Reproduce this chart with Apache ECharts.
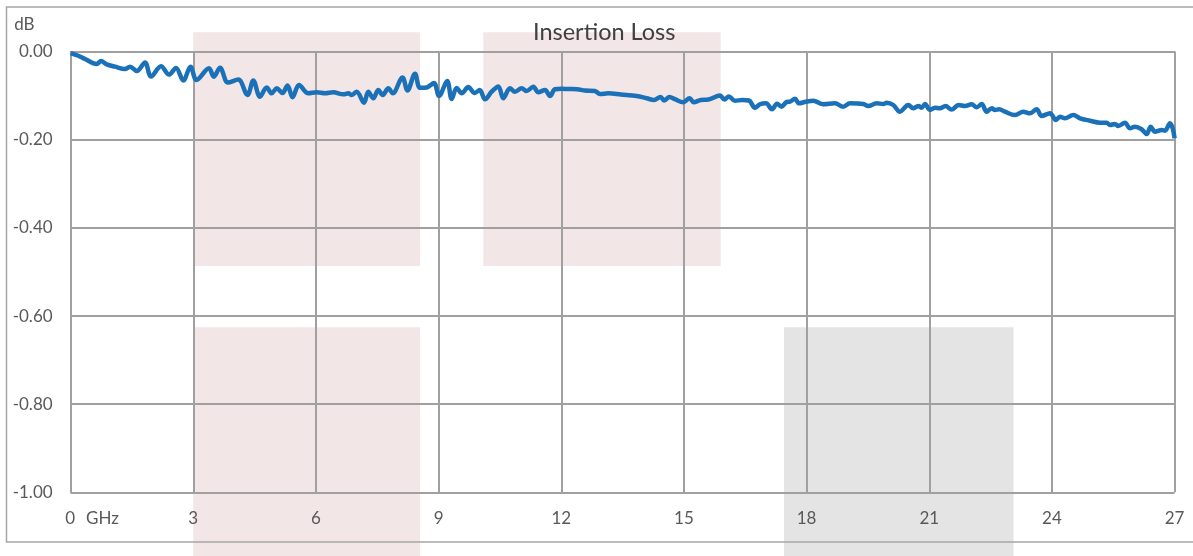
<!DOCTYPE html>
<html>
<head>
<meta charset="utf-8">
<script src="https://cdn.jsdelivr.net/npm/echarts@6/dist/echarts.min.js"></script>
<style>
html,body{margin:0;padding:0;background:#fff;}
#chart{width:1193px;height:556px;}
</style>
</head>
<body>
<div id="chart"></div>
<script>
// ---- data ----
const freqGHz = [0.000,0.188,0.352,0.638,0.743,0.883,1.086,1.330,1.453,1.617,1.820,1.966,2.211,2.406,2.578,2.756,2.932,3.079,3.385,3.500,3.654,3.849,4.101,4.326,4.468,4.632,4.796,4.918,5.040,5.182,5.305,5.427,5.586,5.813,6.019,6.222,6.424,6.669,6.792,6.875,6.997,7.175,7.281,7.403,7.525,7.633,7.770,7.877,8.117,8.239,8.423,8.545,8.709,8.887,9.010,9.210,9.320,9.442,9.565,9.726,9.883,10.005,10.135,10.298,10.460,10.582,10.746,10.868,11.032,11.154,11.316,11.438,11.602,11.724,11.846,12.010,12.172,12.384,12.580,12.824,12.947,13.150,13.460,13.844,14.089,14.268,14.427,14.512,14.649,14.781,14.984,15.138,15.241,15.413,15.596,15.882,15.992,16.097,16.249,16.432,16.591,16.738,16.860,17.007,17.154,17.276,17.386,17.513,17.594,17.716,17.814,17.980,18.164,18.408,18.694,18.897,19.061,19.386,19.508,19.714,19.875,19.958,20.120,20.283,20.486,20.609,20.731,20.814,20.895,21.017,21.139,21.262,21.397,21.548,21.715,21.874,22.037,22.160,22.282,22.404,22.527,22.607,22.712,22.851,23.096,23.299,23.463,23.627,23.749,23.952,24.099,24.197,24.319,24.522,24.686,24.930,25.175,25.339,25.419,25.541,25.622,25.786,25.908,26.030,26.194,26.317,26.415,26.520,26.684,26.765,26.887,26.953,27.000];
const lossDB = [-0.003,-0.0089,-0.0163,-0.0277,-0.0209,-0.0284,-0.0338,-0.039,-0.0338,-0.0436,-0.0243,-0.0561,-0.0329,-0.0518,-0.0368,-0.0652,-0.0338,-0.064,-0.0375,-0.0565,-0.0363,-0.0697,-0.0631,-0.0981,-0.0652,-0.1019,-0.081,-0.0942,-0.0829,-0.0935,-0.0765,-0.1033,-0.0754,-0.0942,-0.0919,-0.0942,-0.0919,-0.0965,-0.0942,-0.0981,-0.0906,-0.1155,-0.0906,-0.1056,-0.0867,-0.0981,-0.0829,-0.0942,-0.0583,-0.0879,-0.0497,-0.0817,-0.081,-0.0708,-0.1003,-0.0663,-0.1071,-0.0822,-0.0942,-0.0799,-0.0935,-0.0867,-0.1078,-0.0906,-0.0788,-0.1056,-0.0829,-0.0906,-0.0829,-0.089,-0.0792,-0.0919,-0.0867,-0.1003,-0.0851,-0.084,-0.0845,-0.0849,-0.0879,-0.089,-0.0958,-0.0942,-0.0969,-0.1003,-0.1056,-0.1094,-0.1024,-0.1106,-0.1026,-0.1076,-0.1144,-0.1056,-0.1146,-0.1094,-0.1085,-0.0992,-0.1085,-0.1012,-0.1112,-0.1094,-0.1106,-0.1271,-0.119,-0.1169,-0.1305,-0.118,-0.1246,-0.114,-0.1133,-0.1065,-0.1169,-0.1133,-0.111,-0.1192,-0.1169,-0.1246,-0.1169,-0.1185,-0.123,-0.1169,-0.1185,-0.1155,-0.1208,-0.136,-0.1208,-0.1283,-0.123,-0.1269,-0.1185,-0.1321,-0.1269,-0.1283,-0.123,-0.1312,-0.1208,-0.123,-0.1192,-0.126,-0.1185,-0.136,-0.1283,-0.1321,-0.1305,-0.136,-0.1435,-0.136,-0.1396,-0.1305,-0.1457,-0.1396,-0.1548,-0.1473,-0.151,-0.1435,-0.151,-0.1564,-0.161,-0.161,-0.1662,-0.1639,-0.1684,-0.161,-0.1737,-0.17,-0.1759,-0.1866,-0.17,-0.1814,-0.1775,-0.1791,-0.1623,-0.1737,-0.1964];

// shaded frequency bands (GHz / dB extents)
const bandFrom   = [3, 10.093, 3, 17.447];
const bandTo     = [8.545, 15.898, 8.545, 23.06];
const bandTop    = [0.0443, 0.0443, -0.6254, -0.6254];
const bandBottom = [-0.486, -0.486, -1.16, -1.16];
const bandKind   = ['pink', 'pink', 'pink', 'gray'];

const xTicks = {min: 0, max: 27, step: 3};
const yTicks = {min: -1, max: 0, step: 0.2};

// ---- chart ----
const bandColors = {pink: '#f3e6e6', gray: '#e4e4e4'};
const gridColor = '#a0a0a0';
const labelColor = '#595959';
const fontFamily = 'Lato, "Open Sans", sans-serif';

const chart = echarts.init(document.getElementById('chart'), null, {renderer: 'canvas'});

const option = {
  backgroundColor: '#ffffff',
  animation: false,
  title: {
    text: 'Insertion Loss',
    left: 533,
    top: 20,
    padding: 0,
    textStyle: {fontFamily, fontSize: 23.5, fontWeight: 'normal', color: '#404040'}
  },
  grid: {left: 70.6, right: 18.4, top: 51.8, bottom: 63.7, containLabel: false},
  xAxis: {
    type: 'value',
    min: xTicks.min, max: xTicks.max, interval: xTicks.step,
    axisLine: {show: true, lineStyle: {color: gridColor, width: 2}},
    axisTick: {show: false},
    splitLine: {show: true, lineStyle: {color: gridColor, width: 2}},
    axisLabel: {
      margin: 18,
      color: labelColor, fontFamily, fontSize: 17,
      formatter: v => v === 0 ? '{p|}{z|0}{g|GHz}' : String(v),
      rich: {
        p: {width: 43, fontFamily, fontSize: 17},
        z: {color: labelColor, fontFamily, fontSize: 17},
        g: {color: labelColor, fontFamily, fontSize: 17, padding: [0, 0, 0, 11]}
      }
    }
  },
  yAxis: {
    type: 'value',
    min: yTicks.min, max: yTicks.max, interval: yTicks.step,
    name: 'dB',
    nameLocation: 'end',
    nameGap: 27,
    nameTextStyle: {color: labelColor, fontFamily, fontSize: 17, align: 'right', verticalAlign: 'middle', padding: [0, 36, 0, 0]},
    axisLine: {show: true, lineStyle: {color: gridColor, width: 2}},
    axisTick: {show: false},
    splitLine: {show: true, lineStyle: {color: gridColor, width: 2}},
    axisLabel: {
      margin: 18,
      color: labelColor, fontFamily, fontSize: 17,
      formatter: v => v.toFixed(2)
    }
  },
  graphic: [{
    type: 'rect',
    z: 100,
    silent: true,
    shape: {x: 6.5, y: 7, width: 1200, height: 535},
    style: {fill: 'none', stroke: '#a6a6a6', lineWidth: 1.5}
  }],
  series: [
    {
      type: 'custom',
      z: -1,
      clip: false,
      silent: true,
      data: bandFrom.map((f, i) => [f, bandTo[i], bandTop[i], bandBottom[i], i]),
      renderItem: (params, api) => {
        const p0 = api.coord([api.value(0), api.value(2)]);
        const p1 = api.coord([api.value(1), api.value(3)]);
        const kind = bandKind[api.value(4)];
        return {
          type: 'rect',
          shape: {x: p0[0], y: p0[1], width: p1[0] - p0[0], height: p1[1] - p0[1]},
          style: {fill: bandColors[kind]}
        };
      }
    },
    {
      type: 'line',
      name: 'Insertion Loss',
      data: freqGHz.map((f, i) => [f, lossDB[i]]),
      showSymbol: false,
      smooth: 0.35,
      lineStyle: {color: '#1b71b8', width: 4.5},
      z: 5
    }
  ]
};
chart.setOption(option);
</script>
</body>
</html>
